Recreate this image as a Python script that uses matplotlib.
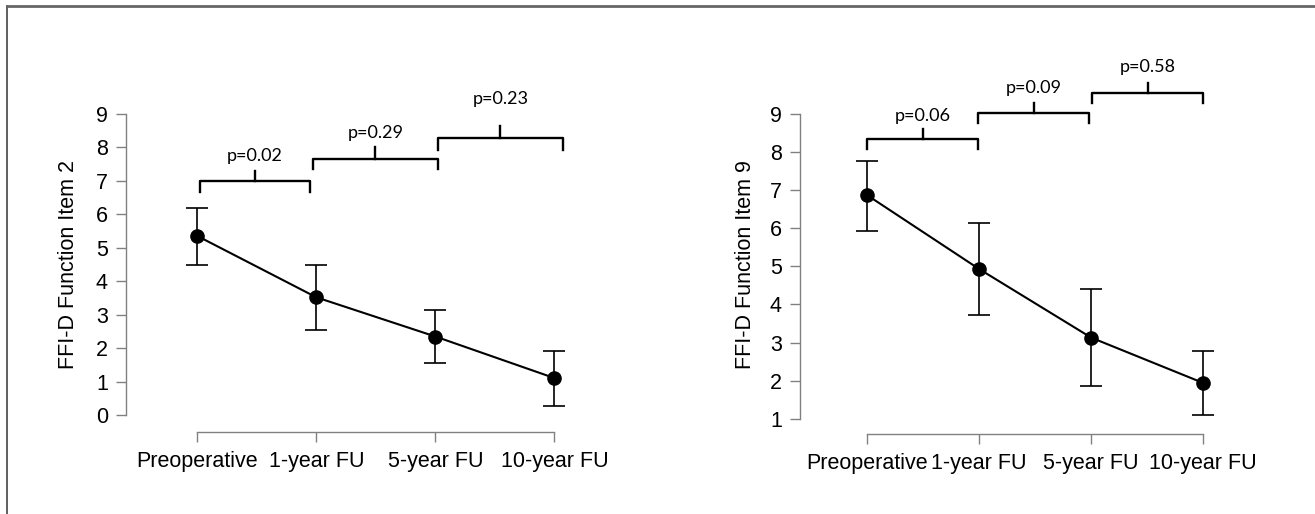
import matplotlib.pyplot as plt
from matplotlib.lines import Line2D

# time points
labels = ['Preoperative', '1-year FU', '5-year FU', '10-year FU']

# FFI-D Function Item 2
item2_mean = [5.35, 3.52, 2.35, 1.11]
item2_upper = [6.20, 4.50, 3.14, 1.93]
item2_lower = [4.48, 2.55, 1.56, 0.29]
item2_p = ['p=0.02', 'p=0.29', 'p=0.23']

# FFI-D Function Item 9
item9_mean = [6.87, 4.93, 3.13, 1.94]
item9_upper = [7.78, 6.13, 4.41, 2.77]
item9_lower = [5.94, 3.73, 1.87, 1.11]
item9_p = ['p=0.06', 'p=0.09', 'p=0.58']

plt.rcParams['font.family'] = ['Liberation Sans', 'DejaVu Sans']

W, H = 1315, 514
fig = plt.figure(figsize=(W / 100, H / 100), dpi=100)


def px_axes(x0, x1, y0, y1):
    # pixel box -> figure fraction
    return fig.add_axes([x0 / W, 1 - y1 / H, (x1 - x0) / W, (y1 - y0) / H])


def bracket(ax, xa, xb, yh, ytip, ynub, ytext, txt):
    xm = (xa + xb) / 2
    ax.plot([xa, xa, xb, xb], [ytip, yh, yh, ytip], color='black', lw=1.7,
            solid_joinstyle='round', clip_on=False)
    ax.plot([xm, xm], [yh, ynub], color='black', lw=1.7, clip_on=False)
    ax.text(xm, ytext, txt, ha='center', va='center', fontsize=13,
            family=['Lato', 'DejaVu Sans'], clip_on=False)


def panel(ax, mean, upper, lower, ylo, yticks, ylabel, pvals, br, lpad):
    x = [1, 2, 3, 4]
    yerr = [[m - l for m, l in zip(mean, lower)], [u - m for m, u in zip(mean, upper)]]
    ax.errorbar(x, mean, yerr=yerr, color='black', lw=1.5, elinewidth=1.2,
                capsize=8, capthick=1.2, marker='o', markersize=9.5, clip_on=False)
    ax.set_xlim(0.4, 4.2)
    ax.set_ylim(ylo, 9.5)
    for s in ['top', 'right']:
        ax.spines[s].set_visible(False)
    for s in ['left', 'bottom']:
        ax.spines[s].set_color('#808080')
        ax.spines[s].set_linewidth(1.0)
    ax.spines['left'].set_bounds(yticks[0], yticks[-1])
    ax.spines['bottom'].set_bounds(1, 4)
    ax.set_yticks(yticks)
    ax.set_xticks(x)
    ax.set_xticklabels(labels)
    ax.tick_params(axis='both', color='#808080', length=7, width=1.0, labelsize=15.5)
    ax.tick_params(axis='y', pad=6)
    ax.tick_params(axis='x', pad=7)
    ax.set_ylabel(ylabel, fontsize=15.5, labelpad=lpad)
    ax.patch.set_visible(False)
    for (xa, xb, yh, ytip, ynub, ytext), t in zip(br, pvals):
        bracket(ax, xa, xb, yh, ytip, ynub, ytext, t)


ax1 = px_axes(126, 126 + 3.8 * 119, 97, 432)
panel(ax1, item2_mean, item2_upper, item2_lower, -0.5, list(range(0, 10)),
      'FFI-D Function Item 2', item2_p,
      [(1.02, 1.95, 6.98, 6.65, 7.28, 7.75),
       (1.97, 3.02, 7.66, 7.34, 8.00, 8.44),
       (3.02, 4.07, 8.29, 7.93, 8.62, 9.43)], 12)

ax2 = px_axes(800, 800 + 3.8 * 112, 95, 434)
panel(ax2, item9_mean, item9_upper, item9_lower, 0.6, list(range(1, 10)),
      'FFI-D Function Item 9', item9_p,
      [(1.00, 1.99, 8.34, 8.08, 8.60, 8.95),
       (1.99, 2.98, 9.03, 8.76, 9.29, 9.68),
       (3.01, 4.00, 9.55, 9.29, 9.82, 10.24)], 10)

# outer frame (top and left edge only visible)
fig.add_artist(Line2D([7 / W, 7 / W], [0, 1 - 6 / H], color='#444444', lw=1.2,
                      transform=fig.transFigure))
fig.add_artist(Line2D([7 / W, 1], [1 - 6 / H, 1 - 6 / H], color='#666666', lw=2.0,
                      transform=fig.transFigure))

fig.savefig('out.png', dpi=100)
